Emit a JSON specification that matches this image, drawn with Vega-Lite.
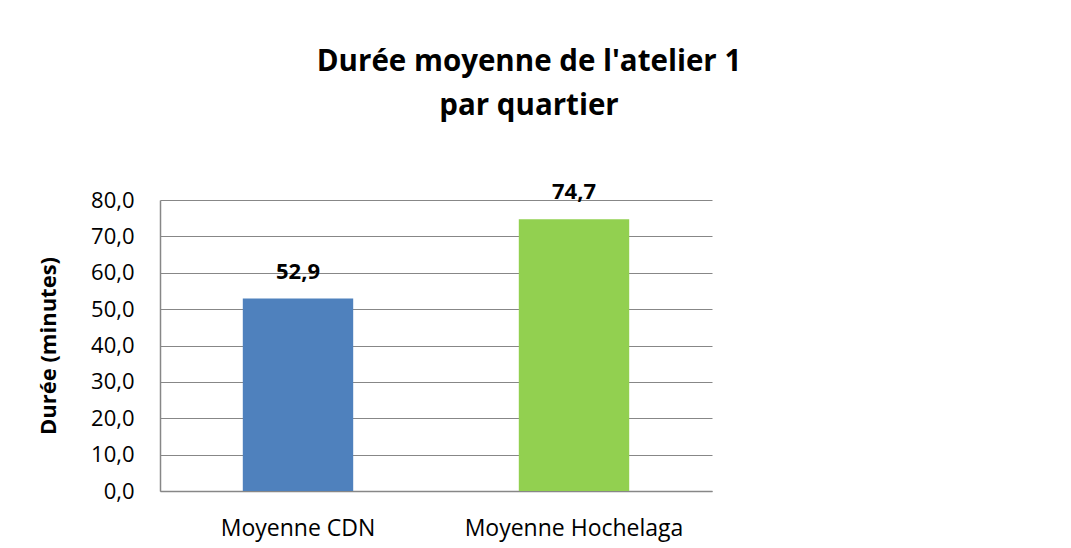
{
  "$schema": "https://vega.github.io/schema/vega-lite/v6.json",
  "autosize": "none",
  "width": 552,
  "height": 291,
  "padding": {"left": 160, "top": 200, "right": 359, "bottom": 57},
  "background": "white",
  "title": {
    "text": ["Durée moyenne de l'atelier 1", "par quartier"],
    "font": "Open Sans",
    "fontSize": 29.5,
    "fontWeight": "bold",
    "color": "#000000",
    "anchor": "middle",
    "dx": 93,
    "offset": 60,
    "lineHeight": 44
  },
  "data": {
    "values": [
      {"quartier": "Moyenne CDN", "duree": 52.9, "couleur": "CDN"},
      {"quartier": "Moyenne Hochelaga", "duree": 74.7, "couleur": "Hochelaga"}
    ]
  },
  "encoding": {
    "x": {
      "field": "quartier",
      "type": "nominal",
      "sort": null,
      "scale": {"paddingInner": 0.6, "paddingOuter": 0.3},
      "axis": {
        "title": null,
        "labelAngle": 0,
        "labelFont": "Open Sans",
        "labelFontSize": 23,
        "labelLimit": 0,
        "labelColor": "#000000",
        "labelPadding": 26,
        "ticks": false,
        "domainColor": "#878787",
        "domainWidth": 1.5
      }
    },
    "y": {
      "field": "duree",
      "type": "quantitative",
      "scale": {"domain": [0, 80]},
      "axis": {
        "title": "Durée (minutes)",
        "titleFont": "Open Sans",
        "titleFontSize": 22,
        "titleFontWeight": "bold",
        "titleColor": "#000000",
        "titlePadding": 30,
        "values": [0, 10, 20, 30, 40, 50, 60, 70, 80],
        "format": ".1f",
        "labelFont": "Open Sans",
        "labelFontSize": 22,
        "labelColor": "#000000",
        "labelPadding": 26,
        "ticks": false,
        "grid": true,
        "gridColor": "#878787",
        "gridWidth": 1.2,
        "domainColor": "#878787",
        "domainWidth": 1.5
      }
    }
  },
  "layer": [
    {
      "mark": {"type": "bar"},
      "encoding": {
        "color": {
          "field": "couleur",
          "type": "nominal",
          "scale": {"domain": ["CDN", "Hochelaga"], "range": ["#4F81BD", "#92D050"]},
          "legend": null
        }
      }
    },
    {
      "mark": {
        "type": "text",
        "baseline": "bottom",
        "dy": -15,
        "font": "Open Sans",
        "fontSize": 22,
        "fontWeight": "bold",
        "color": "#000000"
      },
      "encoding": {
        "text": {"field": "duree", "type": "quantitative", "format": ".1f"}
      }
    }
  ],
  "config": {
    "locale": {
      "number": {"decimal": ",", "thousands": " ", "grouping": [3], "currency": ["", " $"]}
    },
    "view": {"stroke": null}
  }
}
